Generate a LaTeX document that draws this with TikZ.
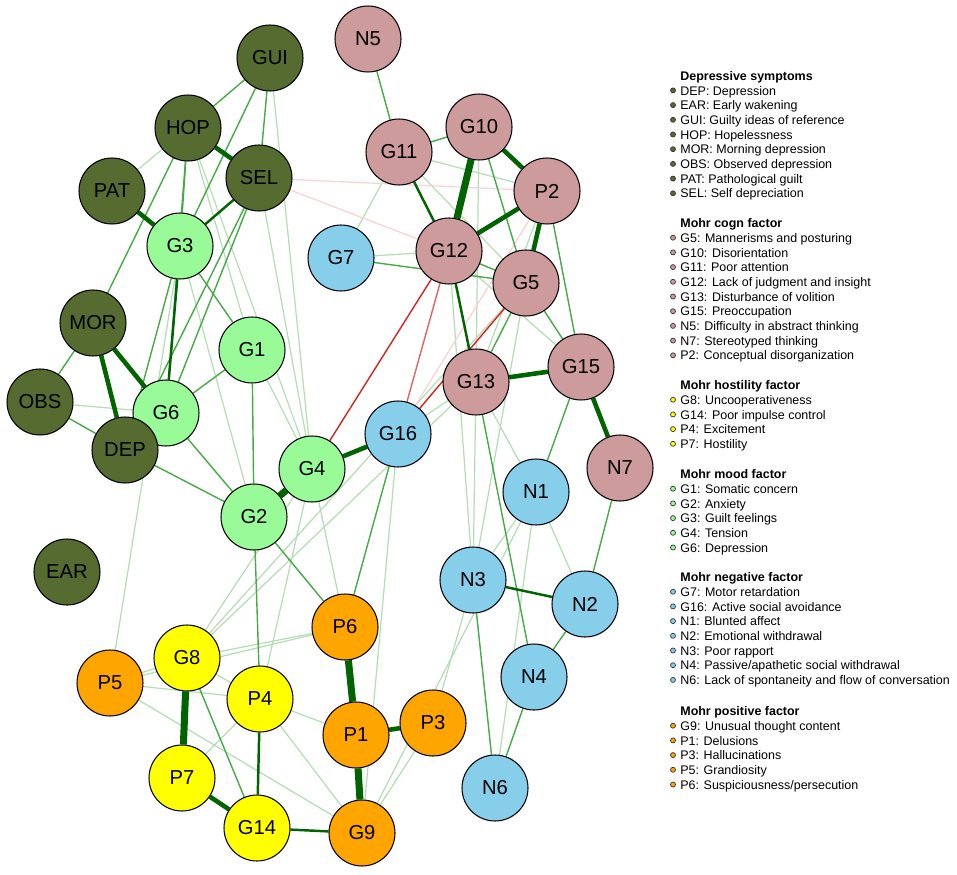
\documentclass[tikz,border=0pt]{standalone}
\usepackage{fontspec}
\setmainfont{Liberation Sans}
\usetikzlibrary{backgrounds}
\definecolor{depOlive}{RGB}{85,107,47}
\definecolor{moodGreen}{RGB}{152,251,152}
\definecolor{cognRose}{RGB}{205,155,155}
\definecolor{negBlue}{RGB}{135,206,235}
\definecolor{posOrange}{RGB}{255,165,0}
\definecolor{hostYellow}{RGB}{255,255,0}
\definecolor{edgeDark}{RGB}{0,100,0}
\definecolor{edgeMid}{RGB}{30,130,30}
\definecolor{edgeLight}{RGB}{70,170,70}
\definecolor{edgeRed}{RGB}{210,35,35}

% one block of the legend: name, y, colour, title, entries
\newcommand{\legendgroup}[5]{%
  \node[legtitle] (#1) at (680,#2) {#4};
  \foreach \entry [count=\k] in {#5} {
    \node[legdot, fill=#3] (#1dot\k) at (673,{#2+\k*14.7}) {};
    \node[legtext] (#1txt\k) at (680,{#2+\k*14.7}) {\entry};
  }%
}

\begin{document}
\begin{tikzpicture}[x=0.02cm, y=-0.02cm,
  vnode/.style={circle, draw=black, line width=0.6pt, minimum size=1.32cm, inner sep=0pt, font=\fontsize{11.5}{13}\selectfont},
  dep/.style={vnode, fill=depOlive},
  mood/.style={vnode, fill=moodGreen},
  cogn/.style={vnode, fill=cognRose},
  negf/.style={vnode, fill=negBlue},
  posf/.style={vnode, fill=posOrange},
  host/.style={vnode, fill=hostYellow},
  vstrong/.style={edgeDark, line width=4pt},
  strong/.style={edgeDark, line width=2.6pt},
  mid/.style={edgeDark, line width=1.4pt},
  weak/.style={edgeLight, line width=0.8pt},
  faint/.style={edgeLight!40, line width=0.7pt},
  neg/.style={edgeRed, line width=0.8pt},
  negmid/.style={edgeRed!70, line width=0.8pt},
  negfaint/.style={edgeRed!20, line width=0.7pt},
  legtext/.style={anchor=mid west, inner sep=0pt, font=\fontsize{7.1}{8}\selectfont},
  legtitle/.style={legtext, font=\fontsize{7.1}{8}\selectfont\bfseries},
  legdot/.style={circle, draw=black!80, line width=0.4pt, minimum size=0.1cm, inner sep=0pt}]

\useasboundingbox (0,0) rectangle (957,875);

% Nodes
\foreach \n/\x/\y in {G3/180/246, G1/252/350, G6/166/413, G4/312/469, G2/254/517}
  \node[mood] (\n) at (\x,\y) {\n};
\foreach \n/\x/\y in {GUI/270/58, HOP/188/128, SEL/259/178, PAT/112/191, MOR/93/323, OBS/40/402, DEP/125/450, EAR/67/572}
  \node[dep] (\n) at (\x,\y) {\n};
\foreach \n/\x/\y in {N5/368/39, G10/479/127, G11/399/152, P2/547/191, G12/449/251, G5/526/283, G15/581/367, G13/476/382, N7/620/468}
  \node[cogn] (\n) at (\x,\y) {\n};
\foreach \n/\x/\y in {G7/341/258, G16/398/434, N1/536/492, N3/473/580, N2/585/604, N4/534/677, N6/495/788}
  \node[negf] (\n) at (\x,\y) {\n};
\foreach \n/\x/\y in {P6/345/627, P5/110/683, P3/433/723, P1/356/735, G9/362/833}
  \node[posf] (\n) at (\x,\y) {\n};
\foreach \n/\x/\y in {G8/187/658, P4/260/699, P7/182/778, G14/257/828}
  \node[host] (\n) at (\x,\y) {\n};

% Edges
\begin{scope}[on background layer]
\foreach \a/\b in {HOP/PAT, HOP/G4, HOP/G1, SEL/G4, GUI/G4, OBS/G6, G3/G2, P5/G3, G1/G4, G4/P4, G4/P6, G4/G8,
    G16/G9, G8/G13, G8/G5, G8/P6, P5/P6, P5/P4, P5/G9, G8/P4, P7/P4, P4/P1, P4/G9, P3/N3, G9/P3, G9/N1,
    N3/G13, G12/N3, N1/N3, N1/G13, N1/N2, N1/N6, G5/N3, G11/G7, G7/G12, G10/G13, G11/G5, G11/P2, P2/G13,
    G16/G13, G15/G12, P5/G8}
  \draw[faint] (\a) -- (\b);
\foreach \a/\b in {SEL/G12, SEL/P2, P2/G16}
  \draw[negfaint] (\a) -- (\b);
\foreach \a/\b in {GUI/HOP, GUI/G3, GUI/SEL, HOP/MOR, HOP/G3, HOP/G6, OBS/MOR, OBS/DEP, G1/G6, G1/G2, G6/G2,
    DEP/G2, G3/G1, G2/P4, G2/P6, G16/P6, N5/G11, G10/G11, G10/G5, G12/G5, G7/G5, G5/G13, G5/G15, P2/G15,
    G15/N1, G13/N4, N3/N6, N7/N2, N2/N4, N4/N6, G8/G14, SEL/G6, SEL/DEP, G3/DEP}
  \draw[weak] (\a) -- (\b);
\draw[negmid] (G12) -- (G16);
\foreach \a/\b in {G4/G12, G5/G16}
  \draw[neg] (\a) -- (\b);
\foreach \a/\b in {G3/SEL, G3/G6, G11/G12, G12/G13, N3/N2, G14/G9, P4/G14}
  \draw[mid] (\a) -- (\b);
\foreach \a/\b in {HOP/SEL, PAT/G3, MOR/G6, MOR/DEP, G4/G16, G10/P2, P2/G12, P2/G5, G13/G15, G15/N7, P1/P3, P7/G14}
  \draw[strong] (\a) -- (\b);
\foreach \a/\b in {G2/G4, G10/G12, P6/P1, P1/G9, G8/P7}
  \draw[vstrong] (\a) -- (\b);
\end{scope}

% Legend
\legendgroup{depr}{75.7}{depOlive}{Depressive symptoms}{DEP: Depression, EAR: Early wakening, GUI: Guilty ideas of reference, HOP: Hopelessness, MOR: Morning depression, OBS: Observed depression, PAT: Pathological guilt, SEL: Self depreciation}
\legendgroup{cogn}{223}{cognRose}{Mohr cogn factor}{G5: Mannerisms and posturing, G10: Disorientation, G11: Poor attention, G12: Lack of judgment and insight, G13: Disturbance of volition, G15: Preoccupation, N5: Difficulty in abstract thinking, N7: Stereotyped thinking, P2: Conceptual disorganization}
\legendgroup{host}{385}{hostYellow}{Mohr hostility factor}{G8: Uncooperativeness, G14: Poor impulse control, P4: Excitement, P7: Hostility}
\legendgroup{mood}{474}{moodGreen}{Mohr mood factor}{G1: Somatic concern, G2: Anxiety, G3: Guilt feelings, G4: Tension, G6: Depression}
\legendgroup{nega}{577}{negBlue}{Mohr negative factor}{G7: Motor retardation, G16: Active social avoidance, N1: Blunted affect, N2: Emotional withdrawal, N3: Poor rapport, N4: Passive/apathetic social withdrawal, N6: Lack of spontaneity and flow of conversation}
\legendgroup{posi}{711}{posOrange}{Mohr positive factor}{G9: Unusual thought content, P1: Delusions, P3: Hallucinations, P5: Grandiosity, P6: Suspiciousness/persecution}

\end{tikzpicture}
\end{document}
